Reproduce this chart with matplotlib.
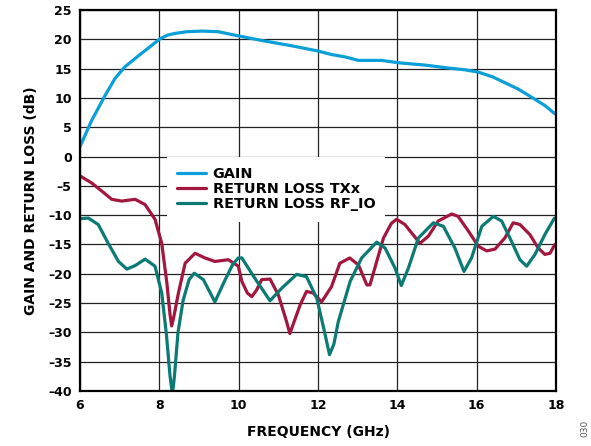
import numpy as np
import matplotlib
matplotlib.use("Agg")
import matplotlib.pyplot as plt

plt.rcParams['font.family'] = ['DejaVu Sans']
plt.rcParams['font.weight'] = 'bold'

# gain curve
gain_f = [6.0, 6.29, 6.63, 6.88, 7.13, 7.55, 8.02, 8.2, 8.39, 8.7, 9.07, 9.48, 9.98, 10.58,
          11.33, 12.0, 12.34, 12.68, 13.02, 13.6, 14.02, 14.7, 15.28, 15.7, 16.04,
          16.4, 16.71, 17.05, 17.39, 17.72, 17.97]
gain_db = [1.7, 6.1, 10.4, 13.3, 15.3, 17.6, 20.1, 20.7, 21.0, 21.3, 21.4, 21.3, 20.6, 19.8,
           18.9, 18.0, 17.4, 17.0, 16.4, 16.4, 16.0, 15.6, 15.1, 14.8, 14.4,
           13.6, 12.6, 11.5, 10.1, 8.7, 7.3]

# return loss TXx
txx_f = [6.0, 6.29, 6.55, 6.8, 7.05, 7.39, 7.64, 7.89, 8.06, 8.19, 8.27, 8.31, 8.36, 8.48,
         8.65, 8.9, 9.15, 9.4, 9.74, 9.99, 10.08, 10.22, 10.33, 10.45, 10.58, 10.79, 11.0,
         11.2, 11.29, 11.38, 11.55, 11.71, 11.88, 12.09, 12.34, 12.55, 12.8, 13.02, 13.23,
         13.31, 13.48, 13.65, 13.85, 13.98, 14.19, 14.57, 14.78, 15.03, 15.37, 15.53, 15.79,
         16.04, 16.25, 16.46, 16.71, 16.92, 17.09, 17.34, 17.55, 17.72, 17.85, 17.97]
txx_db = [-3.3, -4.5, -5.9, -7.3, -7.6, -7.3, -8.2, -10.7, -14.8, -21.6, -27.0, -28.9,
          -27.5, -23.3, -18.2, -16.5, -17.3, -17.9, -17.6, -18.7, -21.3, -23.3, -23.9,
          -22.8, -21.0, -20.9, -23.6, -28.0, -30.2, -28.5, -25.3, -23.0, -23.3, -24.8,
          -22.2, -18.2, -17.3, -18.5, -21.9, -21.9, -17.9, -13.9, -11.4, -10.7, -11.6,
          -14.8, -13.6, -11.0, -9.8, -10.2, -12.7, -15.3, -16.1, -15.8, -13.9, -11.3,
          -11.6, -13.3, -15.6, -16.7, -16.5, -15.0]

# return loss RF_IO
rfio_f = [6.0, 6.21, 6.46, 6.71, 6.97, 7.18, 7.39, 7.64, 7.89, 8.06, 8.18, 8.27, 8.33,
          8.38, 8.47, 8.6, 8.75, 8.88, 9.11, 9.4, 9.66, 9.85, 9.99, 10.08, 10.41, 10.79,
          11.08, 11.46, 11.71, 11.97, 12.15, 12.29, 12.4, 12.51, 12.81, 13.1, 13.48, 13.69,
          13.94, 14.1, 14.28, 14.53, 14.91, 15.16, 15.45, 15.68, 15.87, 16.13, 16.42,
          16.63, 16.88, 17.09, 17.26, 17.47, 17.72, 17.96]
rfio_db = [-10.6, -10.5, -11.6, -14.8, -17.9, -19.2, -18.6, -17.5, -18.7, -23.3, -30.5,
           -37.5, -40.5, -37.5, -30.0, -24.5, -21.0, -19.9, -21.0, -24.8, -21.0, -18.4,
           -17.3, -17.3, -20.8, -24.6, -22.5, -20.1, -20.5, -24.2, -29.5, -33.8, -32.0,
           -28.2, -21.3, -17.3, -14.6, -15.6, -19.0, -22.0, -19.0, -13.9, -11.3, -11.9,
           -15.6, -19.6, -17.3, -11.9, -10.2, -11.0, -14.5, -17.6, -18.7, -16.7, -13.3,
           -10.5]

series_names = ['GAIN', 'RETURN LOSS TXx', 'RETURN LOSS RF_IO']
series_colors = ['#0A9FD8', '#A3173F', '#0B7A74']

x_ticks = [6, 8, 10, 12, 14, 16, 18]
y_ticks = list(range(-40, 30, 5))

fig = plt.figure(figsize=(5.91, 4.46), dpi=100)
ax = fig.add_axes([0.1354, 0.1233, 0.8054, 0.8543])

lw = 2.3
for f, db, name, c in zip([gain_f, txx_f, rfio_f], [gain_db, txx_db, rfio_db],
                          series_names, series_colors):
    ax.plot(f, db, color=c, lw=lw, label=name, zorder=3,
            solid_joinstyle='round', solid_capstyle='round')

ax.set_xlim(6, 18)
ax.set_ylim(-40, 25)
ax.set_xticks(x_ticks)
ax.set_yticks(y_ticks)
ax.set_yticklabels([str(v).replace('-', '\u2013') for v in y_ticks])
ax.tick_params(length=0, labelsize=9, pad=6)
ax.grid(True, color='#222222', lw=0.9, zorder=1)
ax.set_axisbelow(True)
for s in ax.spines.values():
    s.set_linewidth(1.6)
    s.set_color('black')
    s.set_zorder(4)

ax.set_xlabel('FREQUENCY (GHz)', fontsize=10, fontweight='bold', labelpad=9)
ax.set_ylabel('GAIN AND RETURN LOSS (dB)', fontsize=10, fontweight='bold', labelpad=7)

leg = ax.legend(loc='upper left', bbox_to_anchor=(0.183, 0.614), frameon=True,
                fancybox=False, edgecolor='none', facecolor='white', framealpha=1,
                fontsize=10.4, handlelength=2.0, handletextpad=0.45, labelspacing=0.08,
                borderpad=0.7, borderaxespad=0)
leg.set_zorder(2)
for t in leg.get_texts():
    t.set_fontweight('bold')

fig.text(0.99, 0.04, '030', rotation=90, fontsize=6.5, color='#555555',
         fontweight='normal', ha='center', va='center')

fig.savefig('out.png', dpi=100)
